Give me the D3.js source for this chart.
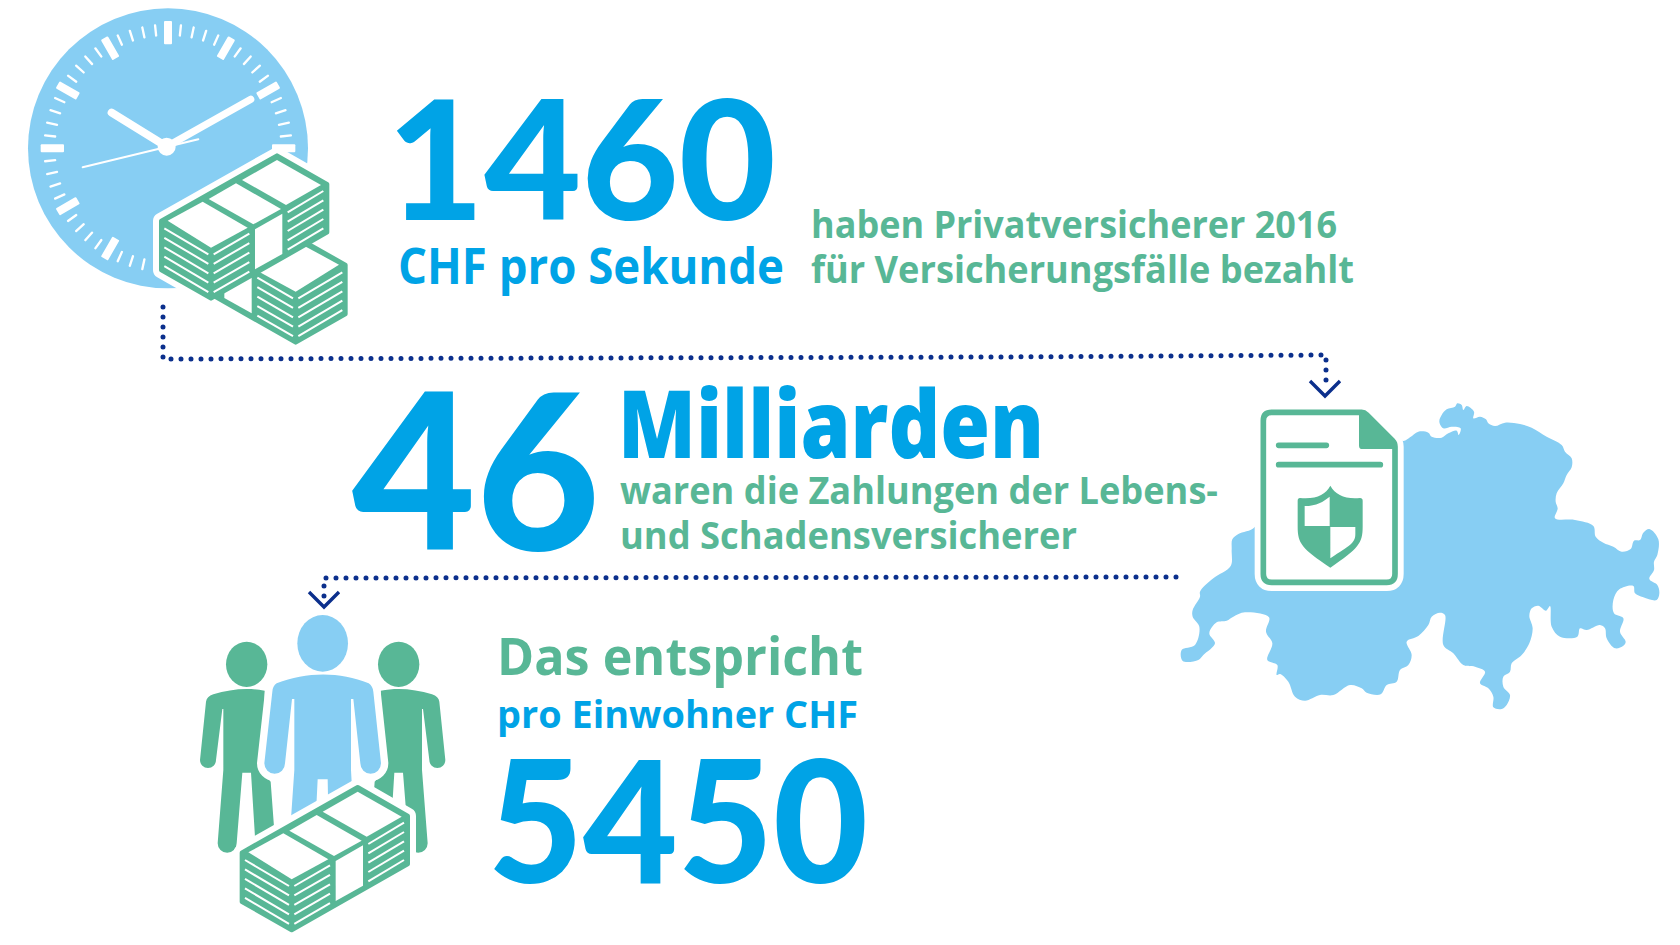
<!DOCTYPE html>
<html>
<head>
<meta charset="utf-8">
<script src="https://cdn.jsdelivr.net/npm/d3@7"></script>
<style>
  html, body { margin: 0; background: #fff; }
  svg { display: block; }
</style>
</head>
<body>
<script>
const width = 1680;
const height = 945;

const blue = "#00a3e6";
const lightBlue = "#87cef3";
const green = "#58b796";
const navy = "#0b2f8c";

// values and captions
const bigNumbers = ["1460", "46", "5450"];
const unitLabels = ["CHF pro Sekunde", "Milliarden", "pro Einwohner CHF"];
const topCaption = ["haben Privatversicherer 2016", "für Versicherungsfälle bezahlt"];
const middleCaption = ["waren die Zahlungen der Lebens-", "und Schadensversicherer"];
const bottomCaption = "Das entspricht";

// map outline traced at 3x, relative to the map group
const swissOutline = [
  [640,150],[700,183],[720,172],[745,155],[775,158],[785,170],[815,173],[835,160],[860,152],[866,165],[872,145],
  [845,140],[820,145],[808,125],[815,105],[830,88],[855,80],[862,70],[875,75],[880,90],[890,78],[912,95],[910,115],
  [930,110],[948,118],[955,130],[975,138],[1005,128],[1050,132],[1085,143],[1130,170],[1175,195],[1185,215],
  [1205,235],[1205,262],[1190,285],[1180,310],[1160,340],[1157,365],[1163,385],[1155,415],[1215,420],[1270,438],
  [1277,470],[1300,488],[1330,500],[1355,515],[1382,507],[1392,482],[1410,480],[1420,458],[1438,447],[1465,478],
  [1462,525],[1452,545],[1452,570],[1438,597],[1462,615],[1468,640],[1460,660],[1420,652],[1395,640],[1390,618],
  [1348,628],[1330,660],[1332,700],[1360,715],[1350,755],[1367,785],[1360,797],[1335,805],[1310,775],[1305,745],
  [1290,735],[1250,750],[1230,745],[1222,770],[1170,770],[1145,740],[1140,678],[1128,692],[1105,677],[1085,685],
  [1078,708],[1088,745],[1078,790],[1055,825],[1025,850],[1020,875],[1000,890],[1000,920],[1020,945],[1010,975],
  [995,987],[970,982],[970,950],[955,925],[930,910],[945,875],[915,860],[880,855],[850,820],[820,795],[825,705],
  [810,698],[785,710],[775,735],[745,768],[710,785],[725,825],[715,855],[690,870],[680,905],[650,915],[632,943],
  [590,938],[575,925],[540,915],[490,945],[450,945],[405,962],[375,950],[355,905],[330,882],[320,885],[322,855],
  [292,840],[307,790],[288,755],[297,712],[225,697],[190,710],[170,722],[140,727],[118,760],[135,790],[100,825],
  [85,840],[38,843],[35,810],[75,795],[88,740],[68,710],[68,690],[90,650],[90,635],[130,595],[182,558],[185,510],
  [187,478],[205,462],[255,440],[300,300]
];

const svg = d3.select("body")
    .append("svg")
    .attr("width", width)
    .attr("height", height);

const line = d3.line();

function iconGroup(x, y) {
    return svg.append("g").attr("transform", `translate(${x},${y}) scale(${1 / 3})`);
}

const bundleHull = "M186,758L533,562L683,648L683,792L335,990L186,905Z";

function drawHalo(g) {
    g.append("path").attr("d", bundleHull)
        .attr("fill", "#fff").attr("stroke", "#fff")
        .attr("stroke-width", 50).attr("stroke-linejoin", "round");
}

// Draws a bundle of notes, long side going up to the right
function drawBundle(g) {
    g.append("path").attr("d", bundleHull)
        .attr("fill", green).attr("stroke", green)
        .attr("stroke-width", 14).attr("stroke-linejoin", "round");

    // paper on top and the white band round the middle
    const paper = [
        [[205,757],[310,700],[445,778],[335,838]],
        [[328,692],[410,645],[545,722],[462,768]],
        [[428,635],[533,575],[665,650],[560,710]],
        [[467,783],[549,736],[549,857],[467,903]]
    ];
    g.selectAll("polygon").data(paper).enter().append("polygon")
        .attr("points", d => d.join(" "))
        .attr("fill", "#fff");

    // edges of the stacked notes
    const faces = [
        { from: [195, 780], to: [327, 858], step: 28.4 },
        { from: [343, 858], to: [450, 796], step: 28.4 },
        { from: [565, 732], to: [672, 668], step: 28 }
    ];
    faces.forEach(function (f) {
        g.selectAll(null).data(d3.range(5)).enter().append("path")
            .attr("d", i => line([[f.from[0], f.from[1] + i * f.step], [f.to[0], f.to[1] + i * f.step]]))
            .attr("stroke", "#fff")
            .attr("stroke-width", 6);
    });
}

// Clock
const clock = iconGroup(0, 0);
const faceX = 504, faceY = 445;
clock.append("circle")
    .attr("cx", faceX).attr("cy", faceY).attr("r", 420)
    .attr("fill", lightBlue);

const minuteAngle = d3.scaleLinear().domain([0, 60]).range([0, 360]);
clock.selectAll("rect").data(d3.range(60)).enter().append("rect")
    .attr("x", d => d % 5 ? -3.5 : -12)
    .attr("width", d => d % 5 ? 7 : 24)
    .attr("y", d => d % 5 ? -374 : -382)
    .attr("height", d => d % 5 ? 37 : 70)
    .attr("rx", 3)
    .attr("fill", "#fff")
    .attr("transform", d => `translate(${faceX},${faceY}) rotate(${minuteAngle(d)})`);

const hands = [
    { from: [500, 440], to: [335, 338], w: 24 },
    { from: [500, 440], to: [752, 298], w: 22 },
    { from: [248, 502], to: [595, 418], w: 6 }
];
clock.selectAll(".hand").data(hands).enter().append("path")
    .attr("class", "hand")
    .attr("d", d => line([d.from, d.to]))
    .attr("stroke", "#fff")
    .attr("stroke-width", d => d.w)
    .attr("stroke-linecap", "round");
clock.append("circle")
    .attr("cx", 500).attr("cy", 440).attr("r", 27)
    .attr("fill", "#fff");

// two bundles in front of the clock, the halo stays under both
const frontBundle = iconGroup(298 / 3, -95 / 3);
drawHalo(frontBundle);
drawBundle(iconGroup(0, 0).attr("transform", `translate(${1222 / 3},${37 / 3}) scale(${-1 / 3},${1 / 3})`));
drawBundle(iconGroup(298 / 3, -95 / 3));

// Map and policy document
const map = iconGroup(1170, 380);
map.append("path")
    .attr("d", d3.line().curve(d3.curveCatmullRomClosed.alpha(0.5))(swissOutline))
    .attr("fill", lightBlue);

const sheet = "M305,97L575,97Q583,97 590,104L668,182Q675,189 675,200L675,582Q675,607 650,607L305,607Q280,607 280,582L280,122Q280,97 305,97Z";
map.append("path").attr("d", sheet)
    .attr("fill", "#fff").attr("stroke", "#fff")
    .attr("stroke-width", 52).attr("stroke-linejoin", "round");
map.append("path").attr("d", sheet)
    .attr("fill", "#fff").attr("stroke", green)
    .attr("stroke-width", 17);
map.append("path")
    .attr("d", "M567,100L585,100L675,190L675,207L577,207Q567,207 567,197Z")
    .attr("fill", green);
map.append("path").attr("d", "M326,196L469,196M326,254L631,254")
    .attr("stroke", green).attr("stroke-width", 17).attr("stroke-linecap", "round");
map.append("path")
    .attr("d", "M481,317C465,345 440,358 390,354Q383,354 383,362L383,440C383,490 395,505 481,563C565,505 578,490 578,440L578,362Q578,354 570,354C525,358 497,345 481,317Z")
    .attr("fill", green);
map.append("path")
    .attr("d", "M404,378C440,378 460,365 479,350L479,438L404,438ZM481,441L556,441L556,462C556,490 540,495 481,535Z")
    .attr("fill", "#fff");

// People with a bundle in front
const people = iconGroup(180, 600);
const sidePerson = "M100,283C150,268 200,262 254,272L250,520L272,545L282,680L228,760L213,518L187,518L170,730A28,28 0 0 1 113,730L130,510L130,327L127,327L108,480A24,24 0 0 1 60,480L78,305Q80,290 100,283Z";
[false, true].forEach(function (flip) {
    const p = people.append("g").attr("transform", flip ? "translate(856,0) scale(-1,1)" : null);
    p.append("ellipse").attr("cx", 200).attr("cy", 193).attr("rx", 62).attr("ry", 68).attr("fill", green);
    p.append("path").attr("d", sidePerson).attr("fill", green);
});
const middlePerson = "M290,250C380,215 480,215 566,250Q578,258 580,275L603,490A30,30 0 0 1 541,490L520,297L513,297L513,510L520,640L445,640L443,538L413,538L408,640L330,700L343,510L343,297L336,297L315,490A30,30 0 0 1 253,490L277,275Q278,258 290,250Z";
people.append("path").attr("d", middlePerson)
    .attr("fill", "#fff").attr("stroke", "#fff")
    .attr("stroke-width", 44).attr("stroke-linejoin", "round");
people.append("path").attr("d", middlePerson).attr("fill", lightBlue);
people.append("ellipse").attr("cx", 428).attr("cy", 130).attr("rx", 76).attr("ry", 85).attr("fill", lightBlue);
const peopleBundle = people.append("g");
drawHalo(peopleBundle);
drawBundle(peopleBundle);

// Dotted connectors
const connectors = [
    [[163, 307], [163, 359], [1000, 357], [1326, 355], [1326, 388]],
    [[1176, 577], [324, 578], [324, 596]]
];
svg.selectAll(".connector").data(connectors).enter().append("path")
    .attr("class", "connector")
    .attr("d", line)
    .attr("fill", "none")
    .attr("stroke", navy)
    .attr("stroke-width", 5)
    .attr("stroke-linecap", "round")
    .attr("stroke-dasharray", "0 10");

const arrowTips = [[1325, 396], [324, 607]];
svg.selectAll(".tip").data(arrowTips).enter().append("path")
    .attr("class", "tip")
    .attr("d", d => line([[d[0] - 15, d[1] - 15], d, [d[0] + 15, d[1] - 15]]))
    .attr("fill", "none")
    .attr("stroke", navy)
    .attr("stroke-width", 3.4);

// Text, squeezed to the measured width since the original face is not installed
function putText(str, x0, x1, y, size, color, family, weight) {
    svg.append("text")
        .attr("x", x0)
        .attr("y", y)
        .attr("textLength", x1 - x0)
        .attr("lengthAdjust", "spacingAndGlyphs")
        .attr("font-family", family)
        .attr("font-weight", weight)
        .attr("font-size", size)
        .attr("fill", color)
        .text(str);
}

const digitFont = "Lato, sans-serif";
const textFont = "'Open Sans', sans-serif";

putText(bigNumbers[0], 387, 776, 220, 166, blue, digitFont, 900);
putText(unitLabels[0], 398, 784, 284, 50, blue, textFont, 700);
putText(topCaption[0], 811, 1337, 238, 37, green, textFont, 700);
putText(topCaption[1], 811, 1354, 283, 37, green, textFont, 700);

putText(bigNumbers[1], 352, 600, 550, 218, blue, digitFont, 900);
putText(unitLabels[1], 618, 1044, 458, 94, blue, textFont, 800);
putText(middleCaption[0], 620, 1218, 504, 37, green, textFont, 700);
putText(middleCaption[1], 620, 1077, 549, 37, green, textFont, 700);

putText(bottomCaption, 497, 863, 675, 52, green, textFont, 700);
putText(unitLabels[2], 497, 858, 728, 38, blue, textFont, 700);
putText(bigNumbers[2], 488, 868, 883, 170, blue, digitFont, 900);
</script>
</body>
</html>
